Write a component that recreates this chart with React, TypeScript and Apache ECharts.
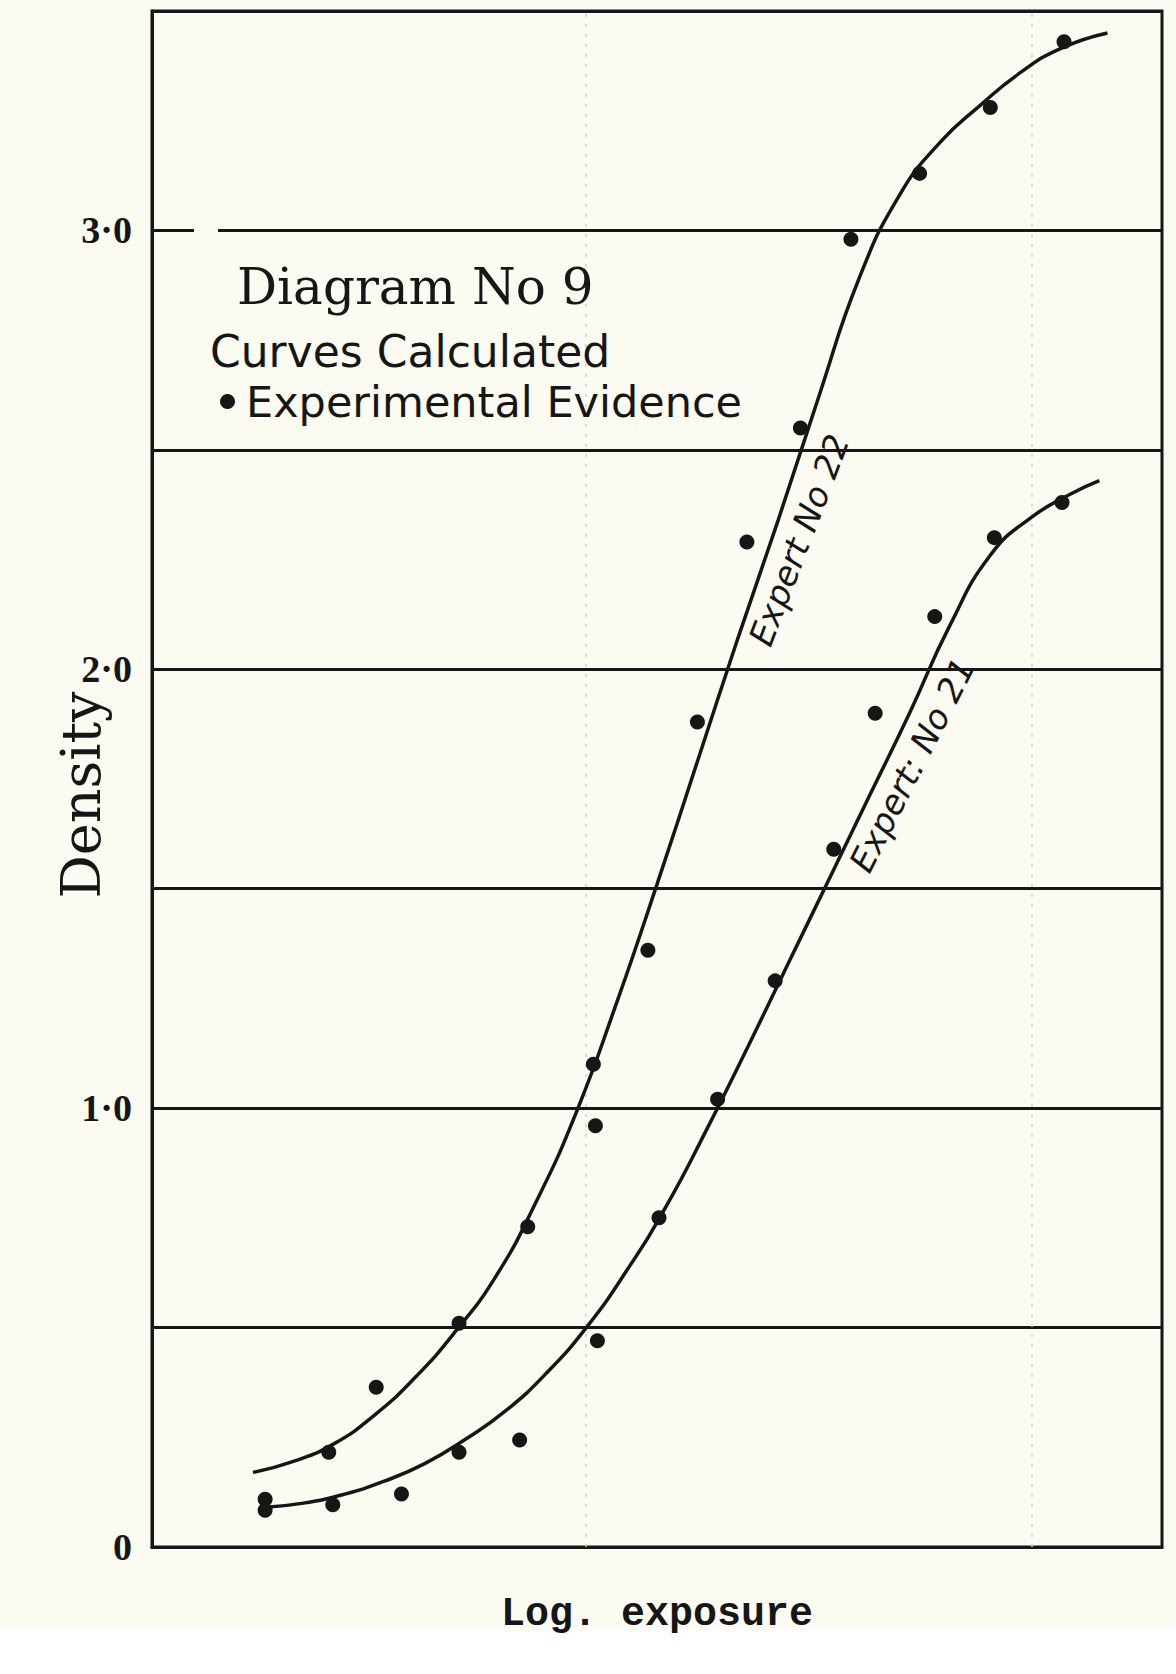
import React, { useEffect, useRef } from "react";
import * as echarts from "echarts";

// ---- data (x: log exposure, arbitrary units; y: density) ----
const yTickLabels: Record<string, string> = { "0": "0", "1": "1·0", "2": "2·0", "3": "3·0" };

// calculated curves
const expert22Curve: [number, number][] = [
  [1.0, 0.17], [1.4, 0.195], [1.8, 0.235], [2.2, 0.3], [2.6, 0.385], [3.0, 0.49],
  [3.4, 0.615], [3.8, 0.785], [4.2, 0.99], [4.6, 1.24], [5.0, 1.51], [5.4, 1.79],
  [5.8, 2.07], [6.2, 2.34], [6.6, 2.62], [7.0, 2.89], [7.4, 3.08], [7.8, 3.2],
  [8.2, 3.285], [8.6, 3.36], [9.0, 3.415], [9.46, 3.45],
];

const expert21Curve: [number, number][] = [
  [1.1, 0.09], [1.5, 0.1], [1.9, 0.12], [2.3, 0.15], [2.7, 0.19], [3.1, 0.245],
  [3.5, 0.31], [3.9, 0.395], [4.3, 0.5], [4.7, 0.63], [5.1, 0.78], [5.5, 0.955],
  [5.9, 1.14], [6.3, 1.33], [6.7, 1.52], [7.1, 1.71], [7.5, 1.9], [7.9, 2.1],
  [8.3, 2.26], [8.7, 2.345], [9.1, 2.4], [9.38, 2.43],
];

// experimental evidence (dots)
const expert22Points: [number, number][] = [
  [1.12, 0.109], [1.75, 0.216], [2.22, 0.364], [3.04, 0.51], [3.72, 0.73], [4.37, 1.1],
  [4.39, 0.96], [4.91, 1.36], [5.4, 1.88], [5.89, 2.29], [6.42, 2.55], [6.92, 2.98],
  [7.6, 3.13], [8.3, 3.28], [9.03, 3.43],
];

const expert21Points: [number, number][] = [
  [1.12, 0.084], [1.79, 0.096], [2.47, 0.121], [3.04, 0.216], [3.64, 0.244], [4.41, 0.47],
  [5.02, 0.75], [5.6, 1.02], [6.17, 1.29], [6.75, 1.59], [7.16, 1.9], [7.75, 2.12],
  [8.34, 2.3], [9.01, 2.38],
];

const paperRulings: number[] = [4.29, 8.71];

const INK = "#161616";
const PAPER = "#fbfbf1";

export default function App() {
  const ref = useRef<HTMLDivElement>(null);

  useEffect(() => {
    document.body.style.margin = "0";
    const chart = echarts.init(ref.current as HTMLDivElement, null, { renderer: "svg" });
    chart.setOption({
      animation: false,
      backgroundColor: "transparent",
      grid: {
        left: 152,
        top: 11,
        width: 1010,
        height: 1536,
        show: true,
        borderColor: INK,
        borderWidth: 3,
        backgroundColor: "transparent",
      },
      legend: {
        data: [{ name: "Experimental Evidence", icon: "circle" }],
        left: 220,
        top: 380,
        padding: 0,
        itemWidth: 15,
        itemHeight: 15,
        textStyle: {
          fontFamily: "DejaVu Sans",
          fontSize: 43,
          color: INK,
          padding: [0, 0, 0, 6],
        },
      },
      xAxis: {
        type: "value",
        min: 0,
        max: 10,
        axisLine: { show: true, lineStyle: { color: INK, width: 3 } },
        axisTick: { show: false },
        axisLabel: { show: false },
        splitLine: { show: false },
        name: "Log. exposure",
        nameLocation: "middle",
        nameGap: 47,
        nameTextStyle: {
          fontFamily: "Liberation Mono",
          fontWeight: "bold",
          fontSize: 40,
          color: INK,
        },
      },
      yAxis: {
        type: "value",
        min: 0,
        max: 3.5,
        interval: 0.5,
        axisLine: { show: true, lineStyle: { color: INK, width: 3 } },
        axisTick: { show: false },
        axisLabel: {
          formatter: (v: number) => yTickLabels[String(v)] ?? "",
          fontFamily: "Liberation Serif",
          fontWeight: "bold",
          fontSize: 38,
          color: INK,
          margin: 20,
        },
        splitLine: { show: true, lineStyle: { color: INK, width: 3 } },
        name: "Density",
        nameLocation: "middle",
        nameGap: 44,
        nameMoveOverlap: false,
        nameRotate: 90,
        nameTextStyle: {
          fontFamily: "DejaVu Serif",
          fontSize: 54,
          color: INK,
          padding: [0, 32, 0, 0],
        },
      },
      series: [
        {
          name: "Expert No 22",
          type: "line",
          data: expert22Curve,
          smooth: 0.5,
          showSymbol: false,
          symbol: "none",
          lineStyle: { color: INK, width: 3.5 },
          z: 3,
        },
        {
          name: "Expert No 21",
          type: "line",
          data: expert21Curve,
          smooth: 0.5,
          showSymbol: false,
          symbol: "none",
          lineStyle: { color: INK, width: 3.5 },
          z: 3,
        },
        {
          name: "Experimental Evidence",
          type: "scatter",
          data: [...expert22Points, ...expert21Points],
          symbol: "circle",
          symbolSize: 15,
          itemStyle: { color: INK, opacity: 1 },
          z: 4,
          markLine: {
            silent: true,
            symbol: "none",
            label: { show: false },
            lineStyle: { color: "#cfcfc2", type: [3, 7], width: 1.5 },
            data: paperRulings.map((x) => ({ xAxis: x })),
            z: 1,
          },
        },
      ],
      graphic: [
        {
          type: "rect",
          shape: { x: 194, y: 222, width: 24, height: 14 },
          style: { fill: PAPER },
          z: 10,
        },
        {
          type: "text",
          x: 237,
          y: 287,
          style: {
            text: "Diagram No 9",
            fontFamily: "DejaVu Serif",
            fontSize: 50,
            fill: INK,
            textVerticalAlign: "middle",
            verticalAlign: "middle",
          },
          z: 10,
        },
        {
          type: "text",
          x: 210,
          y: 351,
          style: {
            text: "Curves Calculated",
            fontFamily: "DejaVu Sans",
            fontSize: 44,
            fill: INK,
            textVerticalAlign: "middle",
            verticalAlign: "middle",
          },
          z: 10,
        },
        {
          type: "text",
          x: 799,
          y: 540,
          rotation: (69 * Math.PI) / 180,
          style: {
            text: "Expert No 22",
            fontFamily: "DejaVu Sans",
            fontStyle: "italic",
            fontSize: 34,
            fill: INK,
            textAlign: "center",
            align: "center",
            textVerticalAlign: "middle",
            verticalAlign: "middle",
          },
          z: 10,
        },
        {
          type: "text",
          x: 912,
          y: 765,
          rotation: (63 * Math.PI) / 180,
          style: {
            text: "Expert: No 21",
            fontFamily: "DejaVu Sans",
            fontStyle: "italic",
            fontSize: 34,
            fill: INK,
            textAlign: "center",
            align: "center",
            textVerticalAlign: "middle",
            verticalAlign: "middle",
          },
          z: 10,
        },
      ],
    });
    return () => chart.dispose();
  }, []);

  return (
    <div
      style={{
        width: 1176,
        height: 1674,
        background: `linear-gradient(${PAPER} 0px, ${PAPER} 1628px, #ffffff 1628px)`,
      }}
    >
      <div ref={ref} style={{ width: 1176, height: 1674 }} />
    </div>
  );
}
